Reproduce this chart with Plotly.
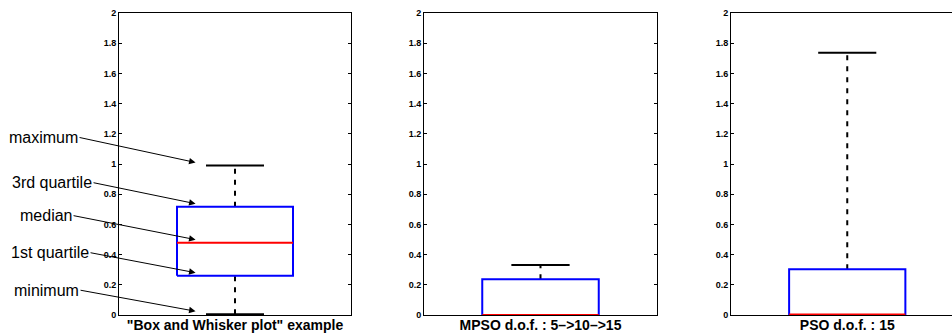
import plotly.graph_objects as go

# ---- data ----
panel_labels = ['"Box and Whisker plot" example', "MPSO d.o.f. : 5–>10–>15", "PSO d.o.f. : 15"]
minimum = [0.005, 0.0, 0.0]
q1 = [0.26, 0.0, 0.0]
median = [0.479, 0.0, 0.004]
q3 = [0.717, 0.236, 0.303]
maximum = [0.99, 0.331, 1.737]

ytick_vals = [0, 0.2, 0.4, 0.6, 0.8, 1, 1.2, 1.4, 1.6, 1.8, 2]
ytick_text = ["0", "0.2", "0.4", "0.6", "0.8", "1", "1.2", "1.4", "1.6", "1.8", "2"]

annot_labels = ["maximum", "3rd quartile", "median", "1st quartile", "minimum"]
annot_values = [maximum[0], q3[0], median[0], q1[0], minimum[0]]
annot_tail_dx = [-116, -102, -122, -105, -115]
annot_tail_dy = [-25, -21, -24, -20, -21]

# ---- style ----
BOX_HALF = 0.25
CAP_HALF = 0.125
POS = 1
FONT = "Arial, Liberation Sans, Helvetica, sans-serif"

fig = go.Figure()

for i in range(3):
    xa = "x" if i == 0 else f"x{i+1}"
    ya = "y" if i == 0 else f"y{i+1}"
    common = dict(xaxis=xa, yaxis=ya, mode="lines", showlegend=False,
                  hoverinfo="skip", cliponaxis=False)
    # whiskers (dashed)
    fig.add_trace(go.Scatter(x=[POS, POS], y=[q3[i], maximum[i]],
                             line=dict(color="black", width=2, dash="5px,6px"), **common))
    fig.add_trace(go.Scatter(x=[POS, POS], y=[minimum[i], q1[i]],
                             line=dict(color="black", width=2, dash="5px,6px"), **common))
    # caps
    fig.add_trace(go.Scatter(x=[POS - CAP_HALF, POS + CAP_HALF], y=[maximum[i], maximum[i]],
                             line=dict(color="black", width=2), **common))
    fig.add_trace(go.Scatter(x=[POS - CAP_HALF, POS + CAP_HALF], y=[minimum[i], minimum[i]],
                             line=dict(color="black", width=2), **common))
    # box
    fig.add_trace(go.Scatter(
        x=[POS - BOX_HALF, POS + BOX_HALF, POS + BOX_HALF, POS - BOX_HALF, POS - BOX_HALF],
        y=[q1[i], q1[i], q3[i], q3[i], q1[i]],
        line=dict(color="#0000FF", width=2), **common))
    # median
    fig.add_trace(go.Scatter(x=[POS - BOX_HALF, POS + BOX_HALF], y=[median[i], median[i]],
                             line=dict(color="#FF0000", width=2), **common))

W, H = 952, 333
x_domains = [[119 / W, 351 / W], [424 / W, 657 / W], [731 / W, 1.0]]
y_domain = [(H - 315) / H, (H - 13) / H]
plot_w = 232.5
x_ranges = [[0.5, 1.5], [0.5, 1.5], [0.5, 0.5 + (W - 731) / plot_w]]

layout = dict(width=W, height=H, margin=dict(l=0, r=0, t=0, b=0, autoexpand=False),
              paper_bgcolor="white", plot_bgcolor="white", showlegend=False)

for i in range(3):
    xk = "xaxis" if i == 0 else f"xaxis{i+1}"
    yk = "yaxis" if i == 0 else f"yaxis{i+1}"
    ya_anchor = "y" if i == 0 else f"y{i+1}"
    xa_anchor = "x" if i == 0 else f"x{i+1}"
    layout[xk] = dict(domain=x_domains[i], range=x_ranges[i], anchor=ya_anchor,
                      automargin=False,
                      showline=True, linecolor="black", linewidth=1, mirror=True,
                      showgrid=False, zeroline=False, ticks="",
                      tickmode="array", tickvals=[POS], ticktext=[panel_labels[i]],
                      ticklabelstandoff=-3,
                      tickfont=dict(family=FONT, size=14, color="black", weight="bold"),
                      layer="below traces", fixedrange=True)
    layout[yk] = dict(domain=y_domain, range=[0, 2], anchor=xa_anchor,
                      automargin=False,
                      showline=True, linecolor="black", linewidth=1,
                      mirror="ticks" if i < 2 else False,
                      showgrid=False, zeroline=False, ticks="inside", ticklen=3,
                      tickwidth=1, tickcolor="black",
                      tickmode="array", tickvals=ytick_vals, ticktext=ytick_text,
                      tickfont=dict(family=FONT, size=9, color="black", weight="bold"),
                      layer="below traces", fixedrange=True)

annotations = []
for lab, v, dx, dy in zip(annot_labels, annot_values, annot_tail_dx, annot_tail_dy):
    annotations.append(dict(
        x=0.83, y=v + 0.02, xref="x", yref="y", text=lab,
        showarrow=True, ax=dx, ay=dy, axref="pixel", ayref="pixel",
        xanchor="right", yanchor="middle",
        arrowhead=2, arrowsize=1.3, arrowwidth=1, arrowcolor="black", standoff=0,
        font=dict(family=FONT, size=16, color="black")))
layout["annotations"] = annotations

fig.update_layout(**layout)
fig.write_html("out.html",
               config={"displayModeBar": False, "staticPlot": True},
               post_script="document.body.style.margin='0';document.body.style.overflow='hidden';")
